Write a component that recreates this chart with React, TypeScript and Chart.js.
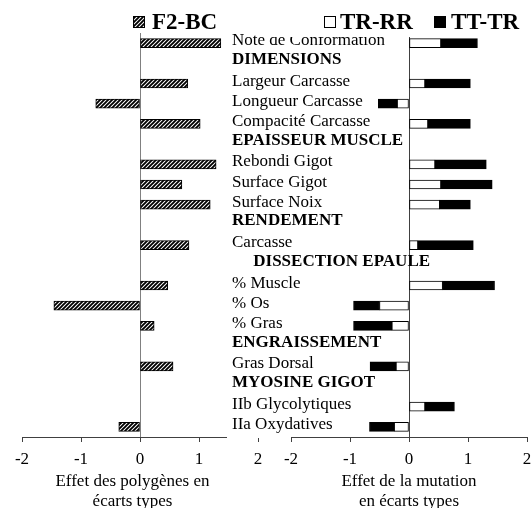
import { useEffect, useRef } from "react";
import { Chart, registerables } from "chart.js";

Chart.register(...registerables);

const categories = [
  "Note de Conformation",
  "DIMENSIONS",
  "Largeur Carcasse",
  "Longueur Carcasse",
  "Compacité Carcasse",
  "EPAISSEUR MUSCLE",
  "Rebondi Gigot",
  "Surface Gigot",
  "Surface Noix",
  "RENDEMENT",
  "Carcasse",
  "     DISSECTION EPAULE",
  "% Muscle",
  "% Os",
  "% Gras",
  "ENGRAISSEMENT",
  "Gras Dorsal",
  "MYOSINE GIGOT",
  "IIb Glycolytiques",
  "IIa Oxydatives",
];
const headerRows = [1, 5, 9, 11, 15, 17];

const f2bc = [1.37, null, 0.81, -0.75, 1.02, null, 1.29, 0.71, 1.19, null, 0.83, null, 0.47, -1.46, 0.24, null, 0.56, null, null, -0.36];
const trrr = [0.54, null, 0.27, -0.2, 0.32, null, 0.44, 0.54, 0.52, null, 0.15, null, 0.57, -0.5, -0.29, null, -0.22, null, 0.27, -0.25];
const tttr = [0.62, null, 0.77, -0.32, 0.72, null, 0.87, 0.87, 0.52, null, 0.94, null, 0.88, -0.44, -0.65, null, -0.44, null, 0.5, -0.42];

const xTicks = [-2, -1, 0, 1, 2];
const leftTitle = ["Effet des polygènes en", "écarts types"];
const rightTitle = ["Effet de la mutation", "en écarts types"];
const seriesNames = ["F2-BC", "TR-RR", "TT-TR"];

const FONT = "'Liberation Serif', 'Times New Roman', serif";
const AXIS = "#404040";
const W = 531;
const H = 508;

function makeHatch(ctx: CanvasRenderingContext2D) {
  const c = document.createElement("canvas");
  c.width = 4;
  c.height = 4;
  const g = c.getContext("2d")!;
  g.fillStyle = "#fff";
  g.fillRect(0, 0, 4, 4);
  g.strokeStyle = "#000";
  g.lineWidth = 1.9;
  g.beginPath();
  g.moveTo(0, 4);
  g.lineTo(4, 0);
  g.moveTo(-1, 1);
  g.lineTo(1, -1);
  g.moveTo(3, 5);
  g.lineTo(5, 3);
  g.stroke();
  return ctx.createPattern(c, "repeat") as CanvasPattern;
}

function xScale(title: string[], zeroColor: string, showTitle: boolean) {
  return {
    type: "linear" as const,
    min: -2,
    max: 2,
    afterBuildTicks: (s: any) => {
      s.ticks = xTicks.map((v) => ({ value: v }));
    },
    ticks: { color: "#000", font: { family: FONT, size: 17 }, padding: 7 },
    grid: {
      drawOnChartArea: true,
      drawTicks: true,
      tickLength: 5,
      lineWidth: 1,
      color: (ctx: any) => (ctx.tick && ctx.tick.value === 0 ? zeroColor : "rgba(0,0,0,0)"),
      tickColor: AXIS,
    },
    border: { display: true, color: AXIS, width: 1 },
    title: {
      display: showTitle,
      text: title,
      color: "#000",
      font: { family: FONT, size: 17, lineHeight: 1.2 },
      padding: { top: 0, bottom: -4 },
    },
    afterFit: (s: any) => {
      s.height = 71;
      s.paddingLeft = 0;
      s.paddingRight = 0;
    },
  };
}

const yScale = {
  type: "category" as const,
  display: false,
  offset: true,
  grid: { offset: true },
};

export default function App() {
  const leftRef = useRef<HTMLCanvasElement>(null);
  const rightRef = useRef<HTMLCanvasElement>(null);

  useEffect(() => {
    const lc = leftRef.current!;
    const rc = rightRef.current!;
    const hatch = makeHatch(lc.getContext("2d")!);

    const leftDecor = {
      id: "leftDecor",
      afterDraw(chart: any) {
        const ctx = chart.ctx;
        ctx.save();
        ctx.fillStyle = hatch;
        ctx.fillRect(133, 16, 11, 11);
        ctx.strokeStyle = "#000";
        ctx.lineWidth = 1;
        ctx.strokeRect(133.5, 16.5, 11, 11);
        ctx.fillStyle = "#000";
        ctx.font = `bold 23px ${FONT}`;
        ctx.textBaseline = "alphabetic";
        ctx.textAlign = "left";
        ctx.fillText(chart.data.datasets[0].label, 152, 29);
        // axis title, centred slightly left of the zero line as in the source
        ctx.font = `17px ${FONT}`;
        ctx.textAlign = "center";
        ctx.textBaseline = "middle";
        leftTitle.forEach((line, i) => ctx.fillText(line, 132.5, 481.5 + i * 20.4));
        ctx.restore();
      },
    };

    const left = new Chart(lc, {
      type: "bar",
      data: {
        labels: categories,
        datasets: [
          {
            label: seriesNames[0],
            data: f2bc,
            backgroundColor: hatch,
            borderColor: "#000",
            borderWidth: 1,
            borderSkipped: false,
            barThickness: 9,
          },
        ],
      },
      options: {
        indexAxis: "y",
        responsive: false,
        maintainAspectRatio: false,
        animation: false,
        devicePixelRatio: 1,
        events: [],
        layout: { autoPadding: false, padding: { left: 22, right: W - 258, top: 33, bottom: 0 } },
        plugins: { legend: { display: false }, tooltip: { enabled: false }, title: { display: false } },
        scales: { x: xScale(leftTitle, "#808080", false) as any, y: yScale as any },
      },
      plugins: [leftDecor],
    });

    const rightDecor = {
      id: "rightDecor",
      beforeDraw(chart: any) {
        const ctx = chart.ctx;
        ctx.save();
        ctx.fillStyle = "#fff";
        ctx.fillRect(227, 0, 291 - 227, 438);
        ctx.restore();
      },
      afterDraw(chart: any) {
        const ctx = chart.ctx;
        const ys = chart.scales.y;
        ctx.save();
        ctx.fillStyle = "#000";
        ctx.textAlign = "left";
        ctx.textBaseline = "alphabetic";
        chart.data.labels.forEach((lab: string, i: number) => {
          const head = headerRows.includes(i);
          ctx.font = `${head ? "bold " : ""}17px ${FONT}`;
          const y = ys.getPixelForValue(i) + (head ? 0.5 : 2);
          ctx.fillText(lab, 232, y);
        });
        // legend area (white box clipping the first label)
        ctx.fillStyle = "#fff";
        ctx.fillRect(266, 0, W - 266, 37);
        const ds = chart.data.datasets;
        ctx.lineWidth = 1;
        ctx.strokeStyle = "#000";
        ctx.fillStyle = "#fff";
        ctx.fillRect(324, 16, 11, 11);
        ctx.strokeRect(324.5, 16.5, 11, 11);
        ctx.fillStyle = "#000";
        ctx.fillRect(434, 16, 12, 12);
        ctx.font = `bold 23px ${FONT}`;
        ctx.fillText(ds[0].label, 340, 29);
        ctx.fillText(ds[1].label, 451, 29);
        ctx.restore();
      },
    };

    const right = new Chart(rc, {
      type: "bar",
      data: {
        labels: categories,
        datasets: [
          {
            label: seriesNames[1],
            data: trrr,
            backgroundColor: "#fff",
            borderColor: "#000",
            borderWidth: 1,
            borderSkipped: false,
            barThickness: 9,
          },
          {
            label: seriesNames[2],
            data: tttr,
            backgroundColor: "#000",
            borderColor: "#000",
            borderWidth: 1,
            borderSkipped: false,
            barThickness: 9,
          },
        ],
      },
      options: {
        indexAxis: "y",
        responsive: false,
        maintainAspectRatio: false,
        animation: false,
        devicePixelRatio: 1,
        events: [],
        layout: { autoPadding: false, padding: { left: 291, right: W - 527, top: 33, bottom: 0 } },
        plugins: { legend: { display: false }, tooltip: { enabled: false }, title: { display: false } },
        scales: {
          x: { ...(xScale(rightTitle, AXIS, true) as any), stacked: true },
          y: { ...(yScale as any), stacked: true },
        },
      },
      plugins: [rightDecor],
    });

    return () => {
      left.destroy();
      right.destroy();
    };
  }, []);

  return (
    <div style={{ position: "absolute", left: 0, top: 0, width: W, height: H, background: "#fff" }}>
      <canvas ref={leftRef} width={W} height={H} style={{ position: "absolute", left: 0, top: 0 }} />
      <canvas ref={rightRef} width={W} height={H} style={{ position: "absolute", left: 0, top: 0 }} />
    </div>
  );
}
